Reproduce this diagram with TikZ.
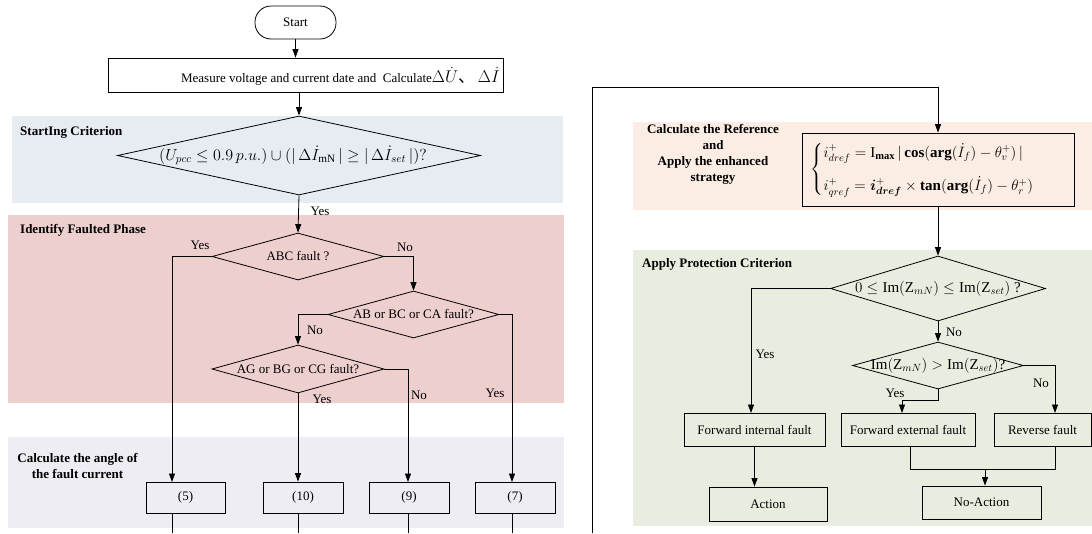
\documentclass[tikz,border=0pt]{standalone}
\usepackage{fix-cm}
\usepackage{amsmath}
\usepackage{fontspec}
\setmainfont{Liberation Serif}
\newfontfamily\cjkfont{Noto Sans CJK SC}
\usetikzlibrary{arrows.meta,shapes.geometric}
\definecolor{bandblue}{HTML}{E7EBF2}
\definecolor{bandred}{HTML}{EDCFCE}
\definecolor{bandpurple}{HTML}{EFEDF4}
\definecolor{bandorange}{HTML}{FBEDE3}
\definecolor{bandgreen}{HTML}{E9EDDF}
\begin{document}
\begin{tikzpicture}[x=1pt,y=-1pt,
  every node/.style={font=\fontsize{13}{15.5}\selectfont},
  ln/.style={line width=0.8pt, draw=black},
  arr/.style={ln, -{Triangle[length=8.5pt,width=6pt]}},
  rbox/.style={draw, line width=0.8pt, inner sep=0pt},
  termbox/.style={draw, line width=0.8pt, inner sep=0pt, rounded corners=16pt},
  dec/.style={diamond, draw, line width=0.8pt, inner sep=0pt},
  lab/.style={font=\bfseries\fontsize{13}{16}\selectfont, align=center, inner sep=0pt},
  yn/.style={inner sep=0pt}
]
\useasboundingbox (0,0) rectangle (1092,533);
% bands
\fill[bandblue] (12,116) rectangle (563,203);
\fill[bandred] (8,215) rectangle (564,403);
\fill[bandpurple] (8,437) rectangle (564,528);
\fill[bandorange] (633,122) rectangle (1092,210);
\fill[bandgreen] (633,250) rectangle (1092,526);
% band labels
\node[lab, anchor=west] (l1) at (20,132) {StartIng Criterion};
\node[lab, anchor=west] (l2) at (20,230) {Identify Faulted Phase};
\node[lab] (l3) at (77.5,465.5) {Calculate the angle of\\the fault current};
\node[lab] (l4) at (713,154) {Calculate the Reference\\and\\Apply the enhanced\\strategy};
\node[lab, anchor=west] (l5) at (642,264) {Apply Protection Criterion};
% left flow
\node[termbox, minimum width=81pt, minimum height=33pt] (start) at (295.5,22.5) {Start};
\node[rbox, minimum width=395pt, minimum height=34pt] (measure) at (305.5,75) {};
\node[anchor=east, inner sep=0pt] (mtext) at (500,76) {Measure voltage and current date and\ \ Calculate{\fontsize{17}{18}\selectfont$\Delta\dot{U}$\cjkfont 、\,$\Delta\dot{I}$}};
\node[dec, minimum width=363pt, minimum height=79pt] (c1) at (299,155.5)
  {\makebox[0pt]{\kern-12pt\raisebox{-4pt}{\fontsize{16}{18}\selectfont$(U_{pcc}\le 0.9\,p.u.)\cup(|\,\Delta\dot{I}_{\mathrm{mN}}\,|\ge|\,\Delta\dot{I}_{set}\,|)?$}}};
\node[dec, minimum width=172pt, minimum height=47pt] (abc) at (298,256.5) {\makebox[0pt]{ABC fault ?}};
\node[dec, minimum width=171pt, minimum height=47pt] (ab) at (413.5,314.5) {\makebox[0pt]{AB or BC or CA fault?}};
\node[dec, minimum width=172pt, minimum height=48pt] (ag) at (298,369) {\makebox[0pt]{AG or BG or CG fault?}};
\node[rbox, minimum width=79pt, minimum height=31pt] (b5) at (185.5,497.5) {(5)};
\node[rbox, minimum width=80pt, minimum height=31pt] (b10) at (303,497.5) {(10)};
\node[rbox, minimum width=80pt, minimum height=31pt] (b9) at (409,497.5) {(9)};
\node[rbox, minimum width=80pt, minimum height=31pt] (b7) at (515,497.5) {(7)};
\coordinate (c5) at (172,482);
\coordinate (c9) at (408,482);
\coordinate (c7) at (512,482);
\coordinate (e5) at (172,533);
\coordinate (e10) at (298,533);
\coordinate (e9) at (408,533);
\coordinate (e7) at (512,533);
\draw[arr] (start.south) -- (start.south |- measure.north);
\draw[arr] (measure.south -| c1.north) -- (c1.north);
\draw[arr] (c1.south) -- (abc.north);
\draw[arr] (abc.west) -| (c5);
\draw[arr] (abc.east) -| (ab.north);
\draw[arr] (ab.west) -| (ag.north);
\draw[arr] (ab.east) -| (c7);
\draw[arr] (ag.east) -| (c9);
\draw[arr] (ag.south) -- (ag.south |- b10.north);
\draw[ln] (b5.south -| e5) -- (e5);
\draw[ln] (b10.south -| e10) -- (e10);
\draw[ln] (b9.south -| e9) -- (e9);
\draw[ln] (b7.south -| e7) -- (e7);
\node[yn] (y1) at (320,211) {Yes};
\node[yn] (y2) at (200,245) {Yes};
\node[yn] (n1) at (405,247) {No};
\node[yn] (n2) at (315,330) {No};
\node[yn] (y3) at (322,399) {Yes};
\node[yn] (n3) at (419,395) {No};
\node[yn] (y4) at (495,393) {Yes};
% right flow
\node[rbox, minimum width=272pt, minimum height=73pt] (fbox) at (938,169.5)
  {\makebox[0pt]{\kern-16pt\fontsize{15}{18}\selectfont$\begin{cases} i^{+}_{dref}=\mathrm{I}_{\mathbf{max}}\,|\,\mathbf{cos}(\mathbf{arg}(\dot{I}_{f})-\theta^{+}_{v})\,|\\[12pt] i^{+}_{qref}=\boldsymbol{i}^{+}_{\boldsymbol{dref}}\times\mathbf{tan}(\mathbf{arg}(\dot{I}_{f})-\theta^{+}_{r})\end{cases}$}};
\coordinate (lp) at (592,533);
\coordinate (lpc) at (592,87);
\draw[arr] (lp) -- (lpc) -| (fbox.north);
\node[dec, minimum width=215pt, minimum height=65pt] (p1) at (938,288.5)
  {\makebox[0pt]{\fontsize{15}{18}\selectfont$0\le\mathrm{Im}(\mathrm{Z}_{mN})\le\mathrm{Im}(\mathrm{Z}_{set})$ ?}};
\node[dec, minimum width=171pt, minimum height=47pt] (p2) at (938,365.5)
  {\makebox[0pt]{\fontsize{15}{18}\selectfont$\mathrm{Im}(\mathrm{Z}_{mN})>\mathrm{Im}(\mathrm{Z}_{set})$?}};
\node[rbox, minimum width=141pt, minimum height=33pt] (fi) at (754.5,429.5) {Forward internal fault};
\node[rbox, minimum width=134pt, minimum height=33pt] (fe) at (908,429.5) {Forward external fault};
\node[rbox, minimum width=97pt, minimum height=33pt] (rf) at (1042.5,429.5) {Reverse fault};
\node[rbox, minimum width=118pt, minimum height=34pt] (act) at (768,504) {Action};
\node[rbox, minimum width=119pt, minimum height=33pt] (nact) at (981.5,502.5) {No-Action};
\coordinate (cfi) at (751,413);
\coordinate (crf) at (1055,413);
\coordinate (p2b) at (938,400);
\coordinate (cfe) at (902,413);
\coordinate (m1) at (910,469);
\coordinate (m2) at (1055,469);
\coordinate (m3) at (985,469);
\draw[arr] (fbox.south) -- (p1.north);
\draw[arr] (p1.west) -| (cfi);
\draw[arr] (p1.south) -- (p2.north);
\draw[arr] (p2.east) -| (crf);
\draw[arr] (p2.south) -- (p2b) -| (cfe);
\draw[arr] (fi.south) -- (fi.south |- act.north);
\draw[ln] (fe.south -| m1) -- (m1) -- (m2) -- (rf.south -| m2);
\draw[arr] (m3) -- (m3 |- nact.north);
\node[yn] (y5) at (765,354) {Yes};
\node[yn] (n4) at (954,332) {No};
\node[yn] (n5) at (1041,383) {No};
\node[yn] (y6) at (895,393) {Yes};
\end{tikzpicture}
\end{document}
